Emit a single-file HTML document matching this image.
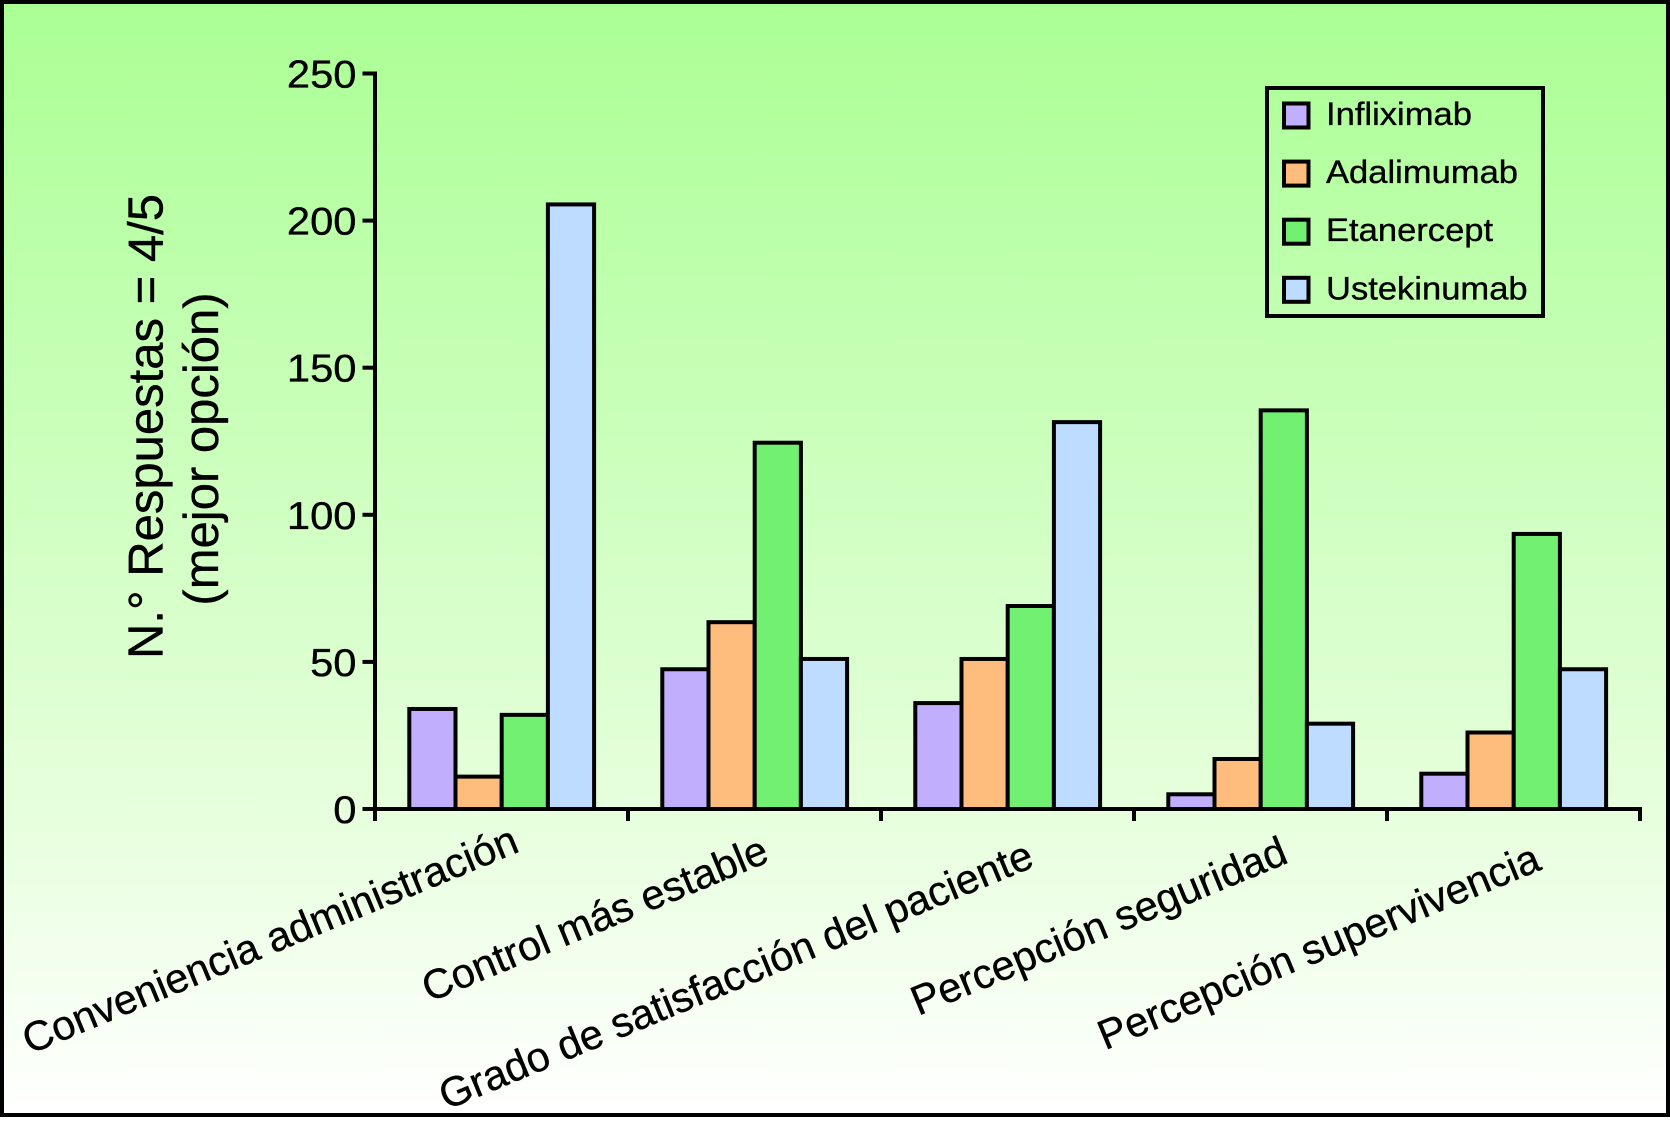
<!DOCTYPE html>
<html lang="es">
<head>
<meta charset="utf-8">
<title>N.° Respuestas = 4/5</title>
<style>
html,body{margin:0;padding:0;background:#fff;}
svg{display:block;font-family:"Liberation Sans",Arial,sans-serif;}
text{stroke:#000;stroke-width:0.35px;}
</style>
</head>
<body>
<svg id="chart" xmlns="http://www.w3.org/2000/svg" width="1670" height="1128" viewBox="0 0 1670 1128">
  <defs>
    <linearGradient id="bg" x1="0" y1="0" x2="0" y2="1">
      <stop offset="0" stop-color="#aaff94"/>
      <stop offset="0.72" stop-color="#e6ffdc"/>
      <stop offset="1" stop-color="#ffffff"/>
    </linearGradient>
  </defs>
  <rect x="2" y="2" width="1666" height="1113" fill="url(#bg)" stroke="#000" stroke-width="4"/>
  <g id="bars"></g>
  <g id="axes"></g>
  <g fill="#000" font-size="49">
    <text transform="translate(162.5,426.5) rotate(-90)" text-anchor="middle">N.° Respuestas = 4/5</text>
    <text transform="translate(218,449) rotate(-90)" text-anchor="middle">(mejor opción)</text>
  </g>
  <g id="legend">
    <rect x="1267" y="88" width="276" height="228" fill="none" stroke="#000" stroke-width="4"/>
  </g>
</svg>
<script>
const categories = ['Conveniencia administración', 'Control más estable', 'Grado de satisfacción del paciente', 'Percepción seguridad', 'Percepción supervivencia'];
const seriesNames = ['Infliximab', 'Adalimumab', 'Etanercept', 'Ustekinumab'];
const infliximab = [34, 47.5, 36, 5, 12];
const adalimumab = [11, 63.5, 51, 17, 26];
const etanercept = [32, 124.5, 69, 135.5, 93.5];
const ustekinumab = [205.5, 51, 131.5, 29, 47.5];
const yTicks = [0, 50, 100, 150, 200, 250];

const seriesValues = [infliximab, adalimumab, etanercept, ustekinumab];
const seriesColors = ['#c1aefc', '#ffbd7d', '#71f072', '#bedcff'];
const labelEnds = [[521, 851], [771, 861], [1036, 866], [1290, 862], [1543, 869]];

const NS = 'http://www.w3.org/2000/svg';
const plot = { left: 375, right: 1640, top: 73.5, bottom: 809, yMax: 250 };
const bandWidth = (plot.right - plot.left) / categories.length;
const barWidth = 46.2;
const groupInset = 34.3;
const yScale = v => plot.bottom - (v / plot.yMax) * (plot.bottom - plot.top);
const xBand = i => plot.left + i * bandWidth;
const xBar = (c, s) => xBand(c) + groupInset + s * barWidth;

function make(tag, attrs, parent, text) {
  const el = document.createElementNS(NS, tag);
  for (const k in attrs) el.setAttribute(k, attrs[k]);
  if (text !== undefined) el.textContent = text;
  parent.appendChild(el);
  return el;
}
const slug = s => s.normalize('NFD').replace(/[\u0300-\u036f]/g, '').toLowerCase().replace(/[^a-z0-9]+/g, '-');

const barsG = document.getElementById('bars');
const axesG = document.getElementById('axes');
const legendG = document.getElementById('legend');

seriesValues.forEach((vals, s) => {
  vals.forEach((v, c) => {
    const top = yScale(v);
    const bar = make('rect', { x: xBar(c, s), y: top, width: barWidth, height: plot.bottom - top, fill: seriesColors[s], stroke: '#000', 'stroke-width': 4 }, barsG);
    
    
  });
});

const yAxis = make('line', { x1: plot.left, x2: plot.left, y1: plot.top - 2, y2: plot.bottom + 12, stroke: '#000', 'stroke-width': 4 }, axesG);


const xAxis = make('line', { x1: plot.left - 12.5, x2: plot.right + 2, y1: plot.bottom, y2: plot.bottom, stroke: '#000', 'stroke-width': 4 }, axesG);



yTicks.forEach(t => {
  const y = yScale(t);
  const tick = make('line', { x1: plot.left - 12.5, x2: plot.left, y1: y, y2: y, stroke: '#000', 'stroke-width': 4 }, axesG);
  
  
  const label = make('text', { transform: 'translate(356.5,' + (y + 14) + ') scale(1.07,1)', 'text-anchor': 'end', 'font-size': 39, fill: '#000' }, axesG, String(t));
  
  
});

for (let i = 1; i <= categories.length; i++) {
  const x = xBand(i);
  const tick = make('line', { x1: x, x2: x, y1: plot.bottom, y2: plot.bottom + 12, stroke: '#000', 'stroke-width': 4 }, axesG);
  
  
}

categories.forEach((name, i) => {
  const p = labelEnds[i];
  const label = make('text', { transform: 'translate(' + p[0] + ',' + p[1] + ') rotate(-22.5)', 'text-anchor': 'end', 'font-size': 41.6, fill: '#000' }, axesG, name);
  
  
});

seriesNames.forEach((name, s) => {
  const top = 102 + s * 58.1;
  const swatch = make('rect', { x: 1284, y: top + 1.5, width: 24.5, height: 24, fill: seriesColors[s], stroke: '#000', 'stroke-width': 4 }, legendG);
  
  
  const label = make('text', { transform: 'translate(1326,' + (top + 23) + ') scale(1.07,1)', 'font-size': 32.3, fill: '#000' }, legendG, name);
  
  
});
</script>
</body>
</html>
